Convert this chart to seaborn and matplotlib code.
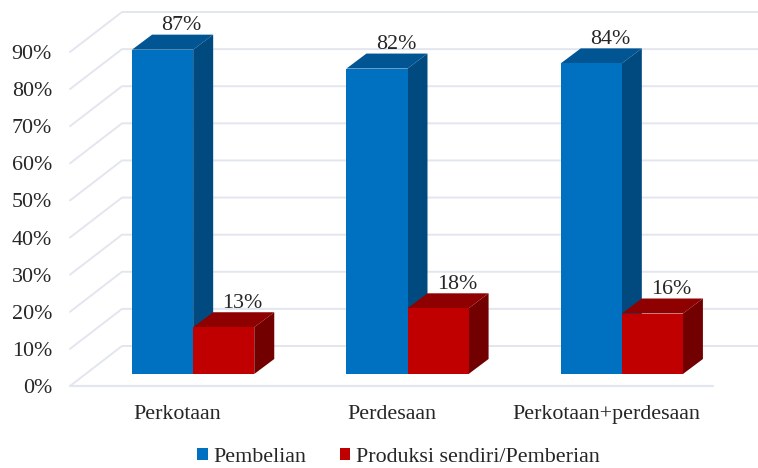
import pandas as pd
import seaborn as sns
import matplotlib.pyplot as plt
from matplotlib.patches import Polygon
from matplotlib.transforms import IdentityTransform

regions = ['Perkotaan', 'Perdesaan', 'Perkotaan+perdesaan']
series = ['Pembelian', 'Produksi sendiri/Pemberian']
pembelian = [87.4, 82.3, 83.7]
produksi = [12.6, 17.7, 16.3]
yticks = [0, 10, 20, 30, 40, 50, 60, 70, 80, 90]

front = ['#0070c0', '#c00000']
top = ['#005592', '#8f0000']
side = ['#004a80', '#730000']
grid = '#e3e6ee'
ink = '#262626'

W, H = 758, 468
sns.set_style('white')
plt.rcParams['font.family'] = ['Liberation Serif', 'DejaVu Serif']
plt.rcParams['font.size'] = 15.8

data = pd.DataFrame({'region': regions * 2,
                     'series': [series[0]] * 3 + [series[1]] * 3,
                     'value': pembelian + produksi})

fig = plt.figure(figsize=(W / 100, H / 100), dpi=100)
# axes = front edge of the floor, the bars stand a bit behind it
ax = fig.add_axes([70 / W, 1 - 386 / H, 643 / W, 334 / H])
sns.barplot(data=data, x='region', y='value', hue='series', order=regions,
            hue_order=series, palette=front, width=0.57, gap=0, saturation=1,
            ax=ax, zorder=3)
ax.set_xlim(-0.5, 2.5)
ax.set_ylim(0, 90)
ax.set_xlabel('')
ax.set_ylabel('')
ax.set_yticks(yticks)
ax.set_yticklabels([f'{t}%' for t in yticks], color=ink)
ax.tick_params(axis='y', length=0, pad=13)
ax.tick_params(axis='x', length=0, pad=13.5, labelcolor=ink)
sns.despine(ax=ax, left=True, bottom=True, top=True, right=True)
ax.patch.set_alpha(0)
ax.grid(False)

plain = IdentityTransform()
back_x, back_y = 52, 40     # wall behind the floor, pixels
bar_x, bar_y = 16, 12       # bar base behind the floor edge
deep_x, deep_y = 20, 15     # depth of a bar


def to_px(x, y):
    return ax.transData.transform((x, y))


# walls: diagonal on the left, horizontal on the back
for t in yticks:
    x0, y0 = to_px(-0.5, t)
    x1, y1 = to_px(2.5, t)
    fig.add_artist(plt.Line2D([x0, x0 + back_x, W], [y0, y0 + back_y, y0 + back_y],
                              color=grid, lw=1.4, transform=plain, zorder=0))
x0, y0 = to_px(-0.5, 0)
x1, y1 = to_px(2.5, 0)
fig.add_artist(plt.Line2D([x0, x1], [y0, y0], color=grid, lw=1.6, transform=plain, zorder=0))

for i, cont in enumerate(ax.containers):
    for bar, val in zip(cont, data.loc[data['series'] == series[i], 'value']):
        x0, y0 = to_px(bar.get_x(), 0)
        x1, y1 = to_px(bar.get_x() + bar.get_width(), val)
        x0, x1 = x0 + bar_x, x1 + bar_x
        y0, y1 = y0 + bar_y, y1 + bar_y
        z = 3 + i
        bar.set_visible(False)
        ax.add_patch(Polygon([(x0, y0), (x1, y0), (x1, y1), (x0, y1)], closed=True, clip_on=False,
                             fc=front[i], ec='none', transform=plain, zorder=z + 0.2))
        ax.add_patch(Polygon([(x0, y1), (x1, y1), (x1 + deep_x, y1 + deep_y), (x0 + deep_x, y1 + deep_y)],
                             closed=True, clip_on=False, fc=top[i], ec='none', transform=plain, zorder=z))
        ax.add_patch(Polygon([(x1, y0), (x1 + deep_x, y0 + deep_y), (x1 + deep_x, y1 + deep_y), (x1, y1)],
                             closed=True, clip_on=False, fc=side[i], ec='none', transform=plain, zorder=z))
        ax.text((x0 + x1) / 2 + 19, y1 + deep_y + 4.5, f'{val:.0f}%', ha='center', va='baseline',
                color=ink, transform=plain, zorder=6)

handles = [plt.Rectangle((0, 0), 1, 1, fc=c, ec='none') for c in front]
fig.legend(handles, series, ncol=2, frameon=False, loc='lower center',
           bbox_to_anchor=(398.5 / W, -0.021), handlelength=0.5, handleheight=0.5,
           handletextpad=0.25, columnspacing=1.5, labelcolor=ink, borderpad=0)
if ax.get_legend():
    ax.get_legend().remove()

fig.savefig('out.png', dpi=100)
